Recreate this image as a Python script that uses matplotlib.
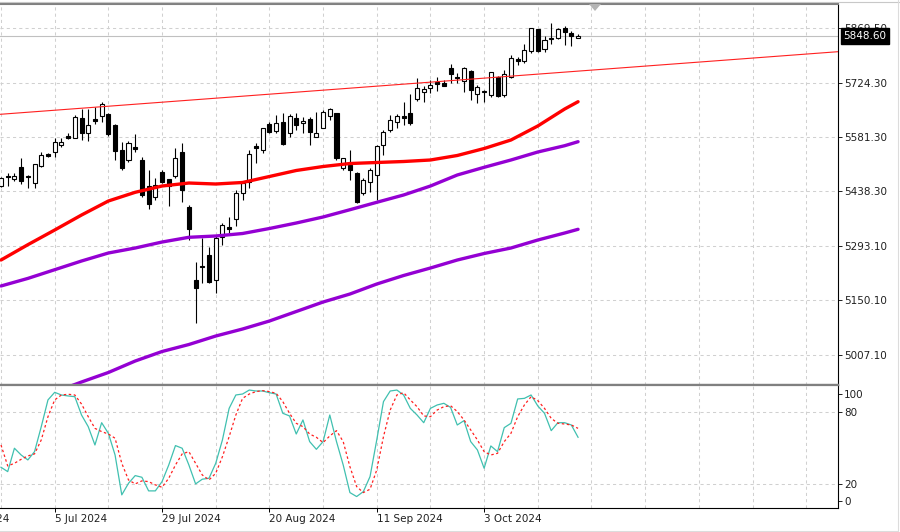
import matplotlib
matplotlib.use("Agg")
import matplotlib.pyplot as plt
from matplotlib.lines import Line2D
from matplotlib.patches import Polygon
import numpy as np

plt.rcParams["font.family"] = ["DejaVu Sans"]

# daily candles, bar 0 = first visible bar (25 Jun 2024)
opens = [5453.1, 5480.0, 5470.0, 5501.7, 5479.5, 5459.5, 5505.9, 5536.0, 5541.3, 5560.6,
         5583.6, 5579.9, 5631.1, 5591.5, 5628.5, 5638.0, 5642.4, 5613.4, 5547.4, 5521.0,
         5556.1, 5521.0, 5452.3, 5423.3, 5489.3, 5470.0, 5478.7, 5542.1, 5396.9, 5204.1,
         5241.1, 5270.1, 5204.1, 5318.4, 5344.9, 5365.2, 5434.6, 5463.7, 5557.9, 5547.4,
         5615.2, 5598.3, 5622.1, 5593.1, 5632.7, 5617.9, 5629.2, 5582.5, 5606.3, 5638.0,
         5644.3, 5499.1, 5507.8, 5485.9, 5433.0, 5463.7, 5481.4, 5560.6, 5600.2, 5620.5,
         5638.0, 5644.3, 5681.3, 5701.3, 5710.3, 5726.9, 5724.3, 5763.9, 5740.9, 5730.9,
         5757.3, 5694.5, 5700.5, 5692.6, 5740.9, 5693.9, 5740.1, 5787.7, 5783.7, 5807.5,
         5866.9, 5813.3, 5839.7, 5843.9, 5870.3, 5855.5, 5843.7]
highs = [5476.9, 5487.4, 5486.7, 5527.1, 5481.4, 5510.4, 5542.9, 5538.7, 5578.3, 5579.9,
         5591.5, 5639.8, 5655.6, 5655.6, 5661.7, 5673.3, 5644.3, 5615.2, 5569.3, 5571.2,
         5588.8, 5528.9, 5494.6, 5473.4, 5494.6, 5471.5, 5551.9, 5565.9, 5402.2, 5250.8,
         5314.2, 5292.0, 5322.9, 5353.8, 5371.3, 5441.8, 5463.7, 5547.4, 5565.1, 5606.8,
         5622.1, 5639.8, 5644.3, 5642.4, 5644.3, 5635.3, 5635.3, 5648.5, 5653.0, 5657.5,
         5645.1, 5527.1, 5547.4, 5488.5, 5472.6, 5499.1, 5560.6, 5600.2, 5639.8, 5641.7,
         5673.3, 5694.5, 5736.7, 5716.4, 5732.2, 5740.1, 5732.2, 5773.7, 5749.9, 5767.3,
         5758.6, 5719.0, 5705.8, 5754.1, 5742.8, 5758.6, 5798.2, 5793.8, 5826.0, 5870.3,
         5868.2, 5848.4, 5881.9, 5868.7, 5874.0, 5862.1, 5852.4]
lows = [5450.5, 5453.1, 5465.5, 5456.8, 5446.2, 5447.0, 5503.3, 5529.7, 5529.7, 5556.1,
        5576.4, 5578.3, 5573.8, 5571.2, 5615.2, 5620.5, 5584.4, 5521.0, 5494.6, 5516.5,
        5541.3, 5423.3, 5391.6, 5415.4, 5459.5, 5399.5, 5472.6, 5410.9, 5309.7, 5091.4,
        5195.4, 5195.4, 5170.6, 5296.5, 5327.4, 5346.7, 5415.4, 5446.2, 5512.3, 5538.7,
        5591.5, 5591.5, 5560.6, 5582.5, 5600.2, 5591.5, 5560.6, 5581.7, 5605.5, 5626.6,
        5521.0, 5494.6, 5468.2, 5406.6, 5428.6, 5437.3, 5415.4, 5534.2, 5595.7, 5604.7,
        5613.4, 5613.4, 5676.8, 5674.9, 5697.1, 5703.2, 5716.4, 5723.5, 5725.1, 5701.3,
        5679.4, 5672.8, 5674.9, 5688.1, 5687.3, 5687.3, 5736.7, 5771.8, 5777.1, 5803.5,
        5806.2, 5807.0, 5827.3, 5839.7, 5824.6, 5821.2, 5843.1]
closes = [5472.6, 5477.4, 5478.7, 5465.5, 5475.3, 5509.6, 5534.2, 5531.5, 5569.3, 5569.3,
          5578.3, 5635.3, 5591.5, 5613.4, 5624.8, 5668.1, 5589.6, 5544.7, 5500.6, 5565.1,
          5550.0, 5428.6, 5404.8, 5455.0, 5463.7, 5453.6, 5525.5, 5441.8, 5338.8, 5182.2,
          5238.4, 5199.6, 5315.8, 5349.3, 5338.0, 5434.6, 5459.5, 5536.8, 5551.9, 5604.7,
          5595.7, 5619.5, 5563.2, 5637.2, 5613.4, 5624.0, 5595.7, 5591.5, 5648.5, 5654.9,
          5525.5, 5525.5, 5494.6, 5410.9, 5468.2, 5494.6, 5557.9, 5595.7, 5626.6, 5637.2,
          5632.7, 5617.9, 5711.9, 5707.7, 5719.0, 5721.7, 5717.7, 5747.3, 5736.7, 5763.9,
          5706.6, 5713.7, 5701.9, 5753.4, 5690.0, 5748.1, 5789.0, 5783.7, 5810.7, 5869.5,
          5808.8, 5838.6, 5843.1, 5866.4, 5857.7, 5847.6, 5848.6]
bid_price = 5848.6

# moving averages every 4 bars
ma_bars = [0, 4, 8, 12, 16, 20, 24, 28, 32, 36, 40, 44, 48, 52, 56, 60, 64, 68, 72, 76, 80, 84, 86]
ma_red = [5256.9, 5297.3, 5336.1, 5375.7, 5412.7, 5435.7, 5452.3, 5460.2, 5457.6, 5461.6, 5477.4, 5493.3,
          5503.8, 5511.7, 5514.4, 5517.0, 5521.0, 5532.9, 5551.3, 5573.8, 5610.8, 5655.6, 5674.9]
ma_purple_mid = [5188.3, 5208.3, 5231.3, 5254.3, 5275.4, 5288.6, 5304.4, 5316.9, 5320.3, 5326.9, 5340.1, 5354.6,
                 5370.5, 5389.7, 5409.3, 5428.6, 5452.3, 5481.4, 5501.7, 5521.0, 5542.1, 5558.7, 5569.3]
slow_bars = [8, 12, 16, 20, 24, 28, 32, 36, 40, 44, 48, 52, 56, 60, 64, 68, 72, 76, 80, 84, 86]
ma_purple_low = [4908.4, 4934.8, 4959.9, 4990.2, 5015.3, 5033.8, 5056.2, 5074.7, 5095.8, 5120.9, 5146.0,
                 5167.1, 5193.5, 5216.0, 5235.8, 5256.9, 5274.1, 5288.6, 5309.7, 5328.2, 5338.0]

# trend line (ray to the right edge)
trend_bars = [-0.15, 124.7]
trend_prices = [5641.6, 5806.9]

# stochastic oscillator
stoch_main = [33.8, 30.2, 49.6, 44.0, 39.9, 46.8, 67.5, 89.7, 96.0, 93.8,
              93.0, 92.4, 77.2, 67.5, 52.3, 70.8, 62.0, 44.0, 10.9, 20.5,
              26.9, 25.5, 14.2, 14.2, 21.9, 35.7, 51.8, 49.6, 35.7, 20.0,
              23.9, 24.7, 37.1, 56.5, 82.7, 93.8, 94.6, 97.9, 97.1, 97.1,
              95.7, 94.6, 78.6, 76.4, 61.4, 73.1, 55.1, 48.7, 55.1, 77.2,
              55.1, 35.7, 12.8, 9.5, 13.6, 26.1, 56.5, 88.3, 97.1, 97.9,
              93.8, 82.7, 77.2, 70.8, 82.7, 85.5, 86.9, 83.5, 68.9, 72.5,
              55.1, 48.2, 33.0, 51.5, 46.8, 66.7, 70.3, 90.5, 91.0, 93.8,
              84.7, 78.6, 64.2, 70.8, 70.8, 68.9, 58.7]
stoch_signal = [52.3, 34.9, 37.1, 40.4, 43.2, 44.9, 56.5, 75.8, 89.7, 93.8,
                94.4, 93.8, 86.3, 75.8, 66.1, 63.4, 61.4, 57.9, 37.1, 23.3,
                20.0, 22.5, 21.9, 19.2, 17.2, 24.7, 35.7, 44.9, 46.8, 37.1,
                27.4, 23.3, 28.8, 42.6, 59.2, 77.2, 91.0, 94.6, 96.6, 97.4,
                96.6, 95.2, 88.3, 78.6, 70.3, 67.5, 61.4, 58.7, 54.3, 59.8,
                64.2, 55.1, 34.3, 17.8, 12.8, 15.6, 31.6, 59.2, 81.3, 93.8,
                95.7, 89.7, 84.1, 76.4, 75.8, 81.3, 84.1, 84.9, 80.0, 73.1,
                64.8, 56.5, 46.8, 44.0, 45.4, 55.1, 62.0, 75.8, 85.5, 92.4,
                89.1, 82.7, 74.4, 70.3, 69.7, 68.9, 66.1]

price_ticks = [5007.1, 5150.1, 5293.1, 5438.3, 5581.3, 5724.3, 5869.5]
stoch_ticks = [6.1, 20, 80, 94.4]
stoch_tick_labels = ["0", "20", "80", "100"]
date_bars = [-8, 8, 24, 40, 56, 72]
date_labels = ["13 Jun 2024", "5 Jul 2024", "29 Jul 2024", "20 Aug 2024", "11 Sep 2024", "3 Oct 2024"]

GRID = "#d0d0d0"
FRAME = "#808080"
FS = 7.5

fig = plt.figure(figsize=(9, 5.32), dpi=100)
W, H = 900.0, 532.0
ax = fig.add_axes([0, (H - 384.5) / H, 838 / W, 380.5 / H])
ax2 = fig.add_axes([0, (H - 508) / H, 838 / W, 123.5 / H])

xlim = (-0.149, 124.74)
for a in (ax, ax2):
    a.set_xlim(*xlim)
    a.set_facecolor("white")
    for xb in range(0, 121, 8):
        a.axvline(xb, color=GRID, lw=0.75, ls=(0, (3, 3)), zorder=0.5)
    a.spines["left"].set_visible(False)
    a.spines["right"].set_color("black")
    a.spines["right"].set_linewidth(0.8)
    a.yaxis.tick_right()
    a.tick_params(axis="y", direction="out", length=3, width=0.7, pad=1.5,
                  labelsize=FS, colors="#202020")

# --- main price panel ---
ax.set_ylim(4928.2, 5932.9)
for p in price_ticks:
    ax.axhline(p, color=GRID, lw=0.75, ls=(0, (3, 3)), zorder=0.5)
ax.axhline(bid_price, color="#c0c0c0", lw=0.8, zorder=1)

x = np.arange(len(opens))
o = np.array(opens)
c = np.array(closes)
bull = c >= o
ax.vlines(x, lows, highs, color="black", lw=0.8, zorder=2)
body_bottom = np.minimum(o, c)
body_h = np.maximum(np.abs(c - o), 0.8)
ax.bar(x[bull], body_h[bull], bottom=body_bottom[bull], width=0.6,
       facecolor="white", edgecolor="black", linewidth=0.8, zorder=3)
ax.bar(x[~bull], body_h[~bull], bottom=body_bottom[~bull], width=0.6,
       facecolor="black", edgecolor="black", linewidth=0.8, zorder=3)

ax.plot(ma_bars, ma_red, color="#ff0000", lw=2.4, solid_capstyle="round",
        solid_joinstyle="round", zorder=4)
ax.plot(ma_bars, ma_purple_mid, color="#9400d3", lw=2.4, solid_capstyle="round",
        solid_joinstyle="round", zorder=4)
ax.plot(slow_bars, ma_purple_low, color="#9400d3", lw=2.4, solid_capstyle="round",
        solid_joinstyle="round", zorder=4)
ax.plot(trend_bars, trend_prices, color="#ff2020", lw=0.8, zorder=5)

ax.set_xticks([])
ax.set_yticks(price_ticks)
ax.set_yticklabels([f"{p:.2f}" for p in price_ticks])
ax.spines["top"].set_color(FRAME)
ax.spines["top"].set_linewidth(1.5)
ax.spines["bottom"].set_color(FRAME)
ax.spines["bottom"].set_linewidth(1.6)

ax.annotate(f"{bid_price:.2f}", xy=(1, bid_price), xycoords=("axes fraction", "data"),
            xytext=(4, 0), textcoords="offset points", ha="left", va="center",
            color="white", fontsize=FS, annotation_clip=False, zorder=10,
            bbox=dict(boxstyle="square,pad=0.25", fc="black", ec="black"))

# --- stochastic panel ---
ax2.set_ylim(0, 102.5)
for lvl in (20, 80):
    ax2.axhline(lvl, color=GRID, lw=0.75, ls=(0, (3, 3)), zorder=0.5)
ax2.plot(x, stoch_main, color="#40c0b0", lw=0.9, zorder=3)
ax2.plot(x, stoch_signal, color="#ff2020", lw=0.9, ls=(0, (2, 2)), zorder=3)
ax2.set_yticks(stoch_ticks)
ax2.set_yticklabels(stoch_tick_labels)
ax2.set_xticks([b for b in date_bars if b >= 0])
ax2.tick_params(axis="x", direction="out", length=3, width=0.7, labelbottom=False)
ax2.spines["top"].set_color(FRAME)
ax2.spines["top"].set_linewidth(1.6)
ax2.spines["bottom"].set_color("black")
ax2.spines["bottom"].set_linewidth(0.8)

for b, lab in zip(date_bars, date_labels):
    ax2.annotate(lab, xy=(b, 0), xycoords=("data", "axes fraction"), xytext=(0, -8.2),
                 textcoords="offset points", ha="left", va="center", fontsize=FS,
                 color="#202020", annotation_clip=False)

# chart-shift marker and window edges
fig.add_artist(Polygon([[589 / W, 1 - 4 / H], [601 / W, 1 - 4 / H], [595 / W, 1 - 11 / H]],
                       closed=True, transform=fig.transFigure, fc="#b4b4b4", ec="none"))
fig.add_artist(Line2D([0, 1], [1 - 1.5 / H, 1 - 1.5 / H], transform=fig.transFigure,
                      color="#c8c8c8", lw=0.8))
fig.add_artist(Line2D([897.5 / W, 897.5 / W], [1 - 531 / H, 1], transform=fig.transFigure,
                      color="#dcdcdc", lw=0.8))
fig.add_artist(Line2D([0, 897.5 / W], [1 - 530.5 / H, 1 - 530.5 / H], transform=fig.transFigure,
                      color="#dcdcdc", lw=0.8))

fig.savefig("out.png", dpi=100, facecolor="white")
